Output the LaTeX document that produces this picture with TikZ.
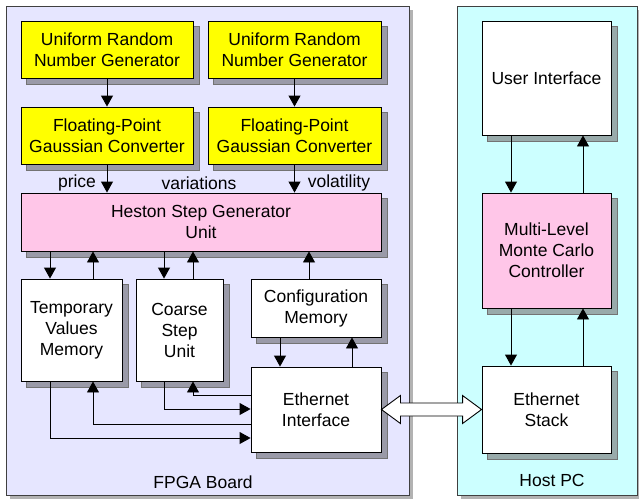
\documentclass[tikz,border=0pt]{standalone}
\usepackage{fontspec}
\setmainfont{Liberation Sans}
\usetikzlibrary{arrows.meta,calc}
\definecolor{boardc}{HTML}{E6E6FF}
\definecolor{hostc}{HTML}{CCFFFF}
\definecolor{yel}{HTML}{FFFF00}
\definecolor{pinkc}{HTML}{FFC6E8}
\definecolor{shadc}{HTML}{9A9AA8}
\definecolor{shadh}{HTML}{98AAAA}
\pgfdeclarelayer{bglayer}
\pgfdeclarelayer{shadlayer}
\pgfsetlayers{bglayer,shadlayer,main}
\tikzset{
  blk/.style={draw=black, line width=0.9pt, inner sep=0pt, align=center,
    font=\fontsize{17.5}{21}\selectfont},
  yblk/.style={blk, fill=yel},
  pblk/.style={blk, fill=pinkc},
  wblk/.style={blk, fill=white},
  shadbox/.style={fill=shadc, draw=black!55, line width=0.9pt},
  shadboxh/.style={fill=shadh, draw=black!55, line width=0.9pt},
  conn/.style={line width=0.9pt, -{Triangle[length=11pt,width=12pt]}},
  lbl/.style={font=\fontsize{17.5}{21}\selectfont, inner sep=0pt},
}
\newcommand{\boxshadow}[2]{\draw[#2] ($(#1.south west)+(6,6)$) rectangle ($(#1.north east)+(6,6)$);}
\begin{document}
\begin{tikzpicture}[x=1pt,y=-1pt]
\useasboundingbox (0,0) rectangle (639,499);
% FPGA blocks
\node[yblk, minimum width=172, minimum height=57] (urng1) at (107,49.5) {Uniform Random\\Number Generator};
\node[yblk, minimum width=173, minimum height=57] (urng2) at (294.5,49.5) {Uniform Random\\Number Generator};
\node[yblk, minimum width=172, minimum height=57] (fpgc1) at (107,135.5) {Floating-Point\\Gaussian Converter};
\node[yblk, minimum width=173, minimum height=57] (fpgc2) at (294.5,135.5) {Floating-Point\\Gaussian Converter};
\node[pblk, minimum width=360, minimum height=58] (heston) at (201,222) {Heston Step Generator\\Unit};
\node[wblk, minimum width=101, minimum height=102] (temp) at (71.5,330) {Temporary\\Values\\Memory};
\node[wblk, minimum width=87, minimum height=102] (coarse) at (179.5,330) {Coarse\\Step\\Unit};
\node[wblk, minimum width=130, minimum height=58] (config) at (316,308) {Configuration\\Memory};
\node[wblk, minimum width=130, minimum height=85] (eth) at (316,409.5) {Ethernet\\Interface};
% Host blocks
\node[wblk, minimum width=129, minimum height=114] (ui) at (546.5,78) {User Interface};
\node[pblk, minimum width=129, minimum height=115] (mlmc) at (546.5,250.5) {Multi-Level\\Monte Carlo\\Controller};
\node[wblk, minimum width=129, minimum height=87] (estack) at (546.5,409.5) {Ethernet\\Stack};
% containers
\begin{pgfonlayer}{bglayer}
\fill[black!30] (10,10) rectangle (413,499);
\draw[fill=boardc, draw=black!75, line width=0.9pt] (6,6) rectangle (409,495);
\fill[black!30] (461,10) rectangle (641,499);
\draw[fill=hostc, draw=black!75, line width=0.9pt] (457,6) rectangle (637,495);
\end{pgfonlayer}
% shadows
\begin{pgfonlayer}{shadlayer}
\boxshadow{urng1}{shadbox}
\boxshadow{urng2}{shadbox}
\boxshadow{fpgc1}{shadbox}
\boxshadow{fpgc2}{shadbox}
\boxshadow{heston}{shadbox}
\boxshadow{temp}{shadbox}
\boxshadow{coarse}{shadbox}
\boxshadow{config}{shadbox}
\boxshadow{eth}{shadbox}
\boxshadow{ui}{shadboxh}
\boxshadow{mlmc}{shadboxh}
\boxshadow{estack}{shadboxh}
\end{pgfonlayer}
\node[lbl] (fpgalbl) at (203,482) {FPGA Board};
\node[lbl] (hostlbl) at (552,480) {Host PC};
% labels
\node[lbl] (price) at (77,183) {price};
\node[lbl] (variations) at (199,183) {variations};
\node[lbl] (volatility) at (339,183) {volatility};
% connectors top
\draw[conn] (urng1.south) -- (fpgc1.north);
\draw[conn] (urng2.south) -- (urng2.south |- fpgc2.north);
\draw[conn] (fpgc1.south) -- (fpgc1.south |- heston.north);
\draw[conn] (fpgc2.south) -- (fpgc2.south |- heston.north);
% heston <-> lower
\draw[conn] (heston.south -| 50,0) -- (temp.north -| 50,0);
\draw[conn] (temp.north -| 93,0) -- (heston.south -| 93,0);
\draw[conn] (heston.south -| 164,0) -- (coarse.north -| 164,0);
\draw[conn] (coarse.north -| 193,0) -- (heston.south -| 193,0);
\draw[conn] (config.north -| 309,0) -- (heston.south -| 309,0);
% config <-> eth
\draw[conn] (config.south -| 280,0) -- (eth.north -| 280,0);
\draw[conn] (eth.north -| 352,0) -- (config.south -| 352,0);
% eth <-> memories
\draw[conn] (eth.west |- 0,395) -| (coarse.south -| 193,0);
\draw[conn] (coarse.south -| 164,0) |- (eth.west |- 0,409);
\draw[conn] (eth.west |- 0,424) -| (temp.south -| 93,0);
\draw[conn] (temp.south -| 50,0) |- (eth.west |- 0,438);
% host connectors
\draw[conn] (ui.south -| 511,0) -- (mlmc.north -| 511,0);
\draw[conn] (mlmc.north -| 583,0) -- (ui.south -| 583,0);
\draw[conn] (mlmc.south -| 511,0) -- (estack.north -| 511,0);
\draw[conn] (estack.north -| 583,0) -- (mlmc.south -| 583,0);
% fat double arrow
\draw[fill=white, line width=0.9pt, line join=miter]
  (eth.east) -- ++(19,-14) -- ++(0,7.5) -- ($(estack.west)+(-19,-6.5)$) -- ++(0,-7.5)
  -- (estack.west) -- ++(-19,14) -- ++(0,-7.5) -- ($(eth.east)+(19,6.5)$) -- ++(0,7.5) -- cycle;
\end{tikzpicture}
\end{document}
